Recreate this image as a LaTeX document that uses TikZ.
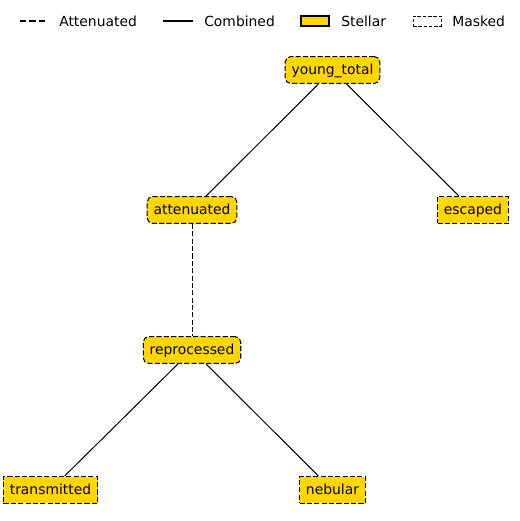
\documentclass[tikz,border=0pt]{standalone}
\usepackage{fontspec}
\setmainfont{DejaVu Sans}
\definecolor{gold}{RGB}{255,215,0}
\tikzset{
  nd/.style={fill=gold, draw=black, line width=0.75pt, dash pattern=on 3.7pt off 1.6pt,
    minimum height=19.4pt, inner xsep=4.6pt, inner ysep=0pt, text height=8pt, text depth=1.8pt,
    font=\fontsize{10}{12}\selectfont, text=black},
  rbox/.style={nd, rounded corners=4pt},
  sbox/.style={nd},
  edge/.style={draw=black, line width=0.72pt},
  attedge/.style={edge, dash pattern=on 3.7pt off 1.6pt},
  legtext/.style={anchor=west, inner sep=0pt, font=\fontsize{10}{12}\selectfont},
}
\begin{document}
\begin{tikzpicture}[x=0.72pt, y=-0.72pt]
\useasboundingbox[fill=white] (0,0) rectangle (520,521);
% legend
\coordinate (la1) at (20,21); \coordinate (la2) at (48,21);
\draw[line width=1.1pt, dash pattern=on 4.6pt off 2.2pt] (la1) -- (la2);
\node[legtext] (lat) at (59,21.5) {Attenuated};
\coordinate (lc1) at (163,21); \coordinate (lc2) at (193,21);
\draw[line width=1.1pt] (lc1) -- (lc2);
\node[legtext] (lct) at (204,21.5) {Combined};
\node[draw=black, fill=gold, line width=0.8pt, minimum width=20.2pt, minimum height=7.2pt, inner sep=0pt] (ls) at (315,21) {};
\node[legtext] (lst) at (341,21.5) {Stellar};
\node[draw=black, fill=white, line width=0.6pt, dash pattern=on 2.6pt off 1.2pt, minimum width=20.2pt, minimum height=7.2pt, inner sep=0pt] (lm) at (427,21) {};
\node[legtext] (lmt) at (452,21.5) {Masked};
% nodes
\node[rbox] (young) at (332.5,70) {young\_total};
\node[rbox] (att) at (192,210) {attenuated};
\node[sbox] (esc) at (473,210) {escaped};
\node[rbox] (rep) at (192,350) {reprocessed};
\node[sbox] (trans) at (50.5,490) {transmitted};
\node[sbox] (neb) at (332.5,490) {nebular};
% edges
\draw[edge] (young) -- (att);
\draw[edge] (young) -- (esc);
\draw[attedge] (att) -- (rep);
\draw[edge] (rep) -- (trans);
\draw[edge] (rep) -- (neb);
\end{tikzpicture}
\end{document}
